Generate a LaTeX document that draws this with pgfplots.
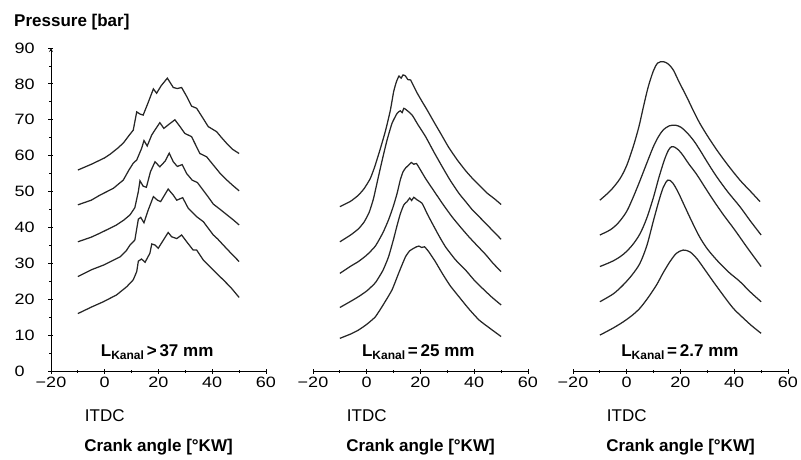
\documentclass[border=0pt]{standalone}
\usepackage{pgfplots}
\pgfplotsset{compat=1.18}
\usepackage{fontspec}
\setmainfont{Liberation Sans}
\newfontfamily\tickfont[FakeStretch=1.2]{Liberation Sans}

\pgfplotsset{
  curve/.style={black!85, line width=1.25pt, mark=none},
  panel/.style={
    scale only axis, width=215pt, height=323pt,
    xmin=-20, xmax=60, ymin=0, ymax=90,
    axis x line=bottom, axis line style={-, line width=0.8pt},
    xtick={-20,0,20,40,60}, xticklabels={−20,0,20,40,60},
    minor x tick num=1,
    tick align=center, major tick length=5pt, minor tick length=3pt,
    tick style={black, line width=0.8pt},
    ticklabel style={font=\tickfont\fontsize{15}{15}\selectfont},
    clip=false,
  },
}
\newcommand{\lab}[1]{\fontsize{17}{17}\selectfont\bfseries L\raisebox{-0.35ex}{\fontsize{12}{12}\selectfont Kanal}\,#1}

\begin{document}
\begin{tikzpicture}
\useasboundingbox (0,0) rectangle (801pt,459pt);
\node[font=\bfseries\fontsize{17}{17}\selectfont, anchor=base west, inner sep=0pt] at (14pt,432pt) {Pressure [bar]};

% Panel 1
\begin{axis}[panel, at={(51pt,88pt)}, anchor=south west,
  axis y line=left, ytick={0,10,...,90}, minor y tick num=1,
  yticklabels={0,10,20,30,40,50,60,70,80,90},
  yticklabel style={anchor=west, inner sep=0pt, xshift=-34pt}]
\addplot[curve] coordinates {(-10,56.0) (-5,57.6) (0,59.4) (2,60.4) (5,62.2) (7,63.6) (9,65.6) (10.6,67.1) (11.9,72.2) (13.1,71.6) (14.3,71.3) (16,74.5) (18.1,78.6) (19.3,77.4) (21,79.5) (23.3,81.6) (25.5,79.0) (27,78.7) (28.6,79.0) (30.5,76.5) (32.3,73.8) (34.2,73.2) (36.5,70.5) (38.5,68.1) (41.6,66.7) (43.5,65.0) (45.4,63.4) (47.5,61.8) (50,60.6)};
\addplot[curve] coordinates {(-10,46.3) (-5,47.6) (-1.8,49.0) (3.2,50.9) (6.9,53.2) (9,56) (10.6,57.9) (11.9,58.8) (13.7,62.0) (14.6,64.2) (15.8,62.7) (17.5,65.8) (20.5,69.2) (22,67.6) (24,68.8) (26.1,70.0) (28,68.1) (29.8,66.2) (32.3,65.3) (35.4,60.6) (37.9,59.7) (40.5,57.3) (42.9,55.1) (45,53.5) (47.5,51.8) (50,50.2)};
\addplot[curve] coordinates {(-10,36.0) (-5,37.3) (-1.8,38.4) (2,39.8) (4.4,40.7) (7,42) (9.4,43.5) (11.2,45.5) (12.5,50) (13.1,53.0) (14.3,51.5) (15.5,51.2) (17,55.5) (18.7,58.3) (20.5,56.9) (22.5,58.5) (24.0,60.7) (25.5,58.3) (27,57.0) (28.8,57.5) (30.5,55.0) (32.5,53.2) (34.5,52.5) (36.5,50.5) (38.5,48.5) (40.4,46.5) (43,45.0) (45.5,43.5) (48,42.0) (50,40.7)};
\addplot[curve] coordinates {(-10,26.3) (-5,28.2) (-0.5,29.5) (3,30.8) (5.7,31.8) (8,33.5) (9.4,35.1) (11.2,36.5) (12.5,42.3) (13.4,42.8) (14.6,41.3) (16.2,44.9) (18.1,48.6) (19.6,47.6) (20.8,47.2) (23.6,50.7) (25.5,49.0) (26.8,47.6) (29.0,48.3) (31.1,45.3) (34.2,43.0) (36.7,41.6) (40.4,37.9) (42,36.8) (44.1,35.1) (47,32.8) (50,30.5)};
\addplot[curve] coordinates {(-10,16.0) (-5,17.8) (-0.5,19.3) (4.4,21.2) (8.2,23.5) (10.6,25.4) (11.9,27.7) (12.5,30.6) (13.7,31.2) (15.0,30.3) (16.8,32.8) (17.5,35.4) (18.7,35.1) (19.9,34.2) (23.6,38.6) (24.9,37.4) (26.8,36.9) (28.6,37.9) (30.5,36.0) (32.9,33.7) (34.2,33.7) (36.7,30.9) (40.4,28.1) (44.1,25.4) (47,23.2) (50,20.5)};
\node at (axis cs:19.5,5.3) {\lab{>\,37 mm}};
\node[font=\fontsize{17}{17}\selectfont] at (axis cs:0,-12.5) {ITDC};
\node[font=\bfseries\fontsize{17}{17}\selectfont] at (axis cs:20,-21.2) {Crank angle [°KW]};
\end{axis}

% Panel 2
\begin{axis}[panel, at={(313pt,88pt)}, anchor=south west, axis y line=none]
\addplot[curve, smooth, tension=0.3] coordinates {(-10,45.8) (-6,47.3) (-3.1,49.0) (-1,50.8) (1.3,53.6) (3,57.0) (5.0,61.8) (7,67) (8.8,72.7) (10.0,77.8) (11,80.5) (12.0,82.2) (12.8,81.6) (13.5,82.5) (14.4,82.2) (15.3,81.2) (16.3,81.1) (17.5,79.3) (18.8,77.4) (20.5,75.2) (22.5,72.7) (25,69.4) (27.5,66.2) (30.5,62.3) (33.7,58.8) (36.8,55.8) (39.9,53.2) (42.5,51.3) (44.9,49.5) (47.5,48.0) (50,46.4)};
\addplot[curve, smooth, tension=0.3] coordinates {(-10,36.0) (-6,37.9) (-3.1,39.6) (-1,41.5) (0.9,44.2) (2.5,48.0) (4,53.0) (5.7,58.6) (7.5,64.2) (9.4,69.0) (11.3,71.8) (12.5,72.5) (13.2,72.0) (13.8,73.2) (15,72.6) (16.9,71.3) (19,68.7) (21.9,65.3) (25,61.0) (28.1,56.9) (31,53.2) (34.3,49.5) (36.8,47.2) (39.3,44.9) (41.8,43.0) (44.3,41.1) (47,39.0) (50,36.7)};
\addplot[curve, smooth, tension=0.3] coordinates {(-10,27.2) (-6,29.2) (-3.1,30.5) (0,32.3) (3.2,34.8) (6,38.5) (8.1,42.1) (9.8,45.7) (11.3,49.5) (12.5,53.3) (13.5,55.5) (14.5,56.6) (15.5,57.3) (16.6,58.1) (17.5,57.6) (18.5,57.8) (20,56.0) (22,53.5) (25.6,49.5) (28.5,46.3) (31.8,42.9) (35,40) (38,37.4) (41,35) (44.3,32.4) (47,30.0) (50,27.7)};
\addplot[curve, smooth, tension=0.3] coordinates {(-10,17.7) (-6,19.4) (-3.1,20.7) (0,22.3) (3.2,24.6) (6,28) (8.1,31.8) (10,36.8) (11.3,40.6) (12.5,43.8) (13.8,46.3) (15,47.2) (16,48.2) (16.7,47.5) (17.5,48.4) (18.5,47.8) (20.6,46.7) (22.5,43.8) (24.4,41.1) (27,37.5) (29.3,34.6) (33,31.0) (36.8,28.1) (40,25.3) (43.1,23.0) (46.5,20.6) (50,18.4)};
\addplot[curve, smooth, tension=0.3] coordinates {(-10,9.1) (-6,10.3) (-3.1,11.4) (0,13) (3.2,15.1) (6,18.3) (9.4,22.6) (12,27.5) (14.4,31.8) (16,33.5) (17.5,34.2) (18.5,34.6) (19.4,34.8) (20.5,34.4) (21.5,34.6) (23.1,33.2) (25.5,30.5) (28.1,27.2) (31,23.8) (34.3,20.7) (38,17.3) (41.8,14.2) (46,11.8) (50,9.6)};
\node at (axis cs:19.2,5.3) {\lab{=\,25 mm}};
\node[font=\fontsize{17}{17}\selectfont] at (axis cs:0,-12.5) {ITDC};
\node[font=\bfseries\fontsize{17}{17}\selectfont] at (axis cs:20,-21.2) {Crank angle [°KW]};
\end{axis}

% Panel 3
\begin{axis}[panel, at={(573pt,88pt)}, anchor=south west, axis y line=none]
\addplot[curve, smooth] coordinates {(-10,47.6) (-6,50.3) (-2.5,53.6) (0,57.3) (2.4,62.5) (4.5,68.0) (6.2,73.6) (8,79.2) (9.9,83.6) (11.5,85.8) (13.6,86.2) (15.5,85.5) (17.3,83.9) (19.5,80.5) (22.3,76.4) (24.8,72.5) (27.2,69.0) (30.3,65.2) (33.5,61.6) (37.5,57.5) (42.1,53.2) (46,50.1) (49.6,47.2)};
\addplot[curve, smooth] coordinates {(-10,37.9) (-6,39.4) (-3,41.4) (0,44.5) (2.5,48.6) (4.9,53.0) (7.5,58.0) (9.9,62.5) (11.8,65.3) (13.6,67.2) (15.8,68.3) (18.1,68.5) (20.2,67.9) (22.3,66.5) (24.8,64.3) (27.2,61.6) (30.3,57.8) (33.5,54.1) (37.5,50.0) (42.1,45.8) (46,41.8) (50,37.9)};
\addplot[curve, smooth] coordinates {(-10,29.1) (-5,30.7) (-1.3,32.5) (2,35) (4.9,38.2) (7.4,42.5) (9.9,48.3) (12,54) (14,58.8) (15.5,61.5) (16.7,62.5) (18,62.3) (19.5,61.4) (21,60.0) (23,57.8) (26,54.8) (29,51.3) (32.2,47.6) (36,43.5) (40,39.5) (45,34.2) (50,29.1)};
\addplot[curve, smooth] coordinates {(-10,19.3) (-5,21.5) (-1.3,24.0) (2,26.8) (4.9,30.0) (7.5,35) (9.9,41.8) (12,47.5) (13.6,51.2) (15.3,53.2) (17,52.5) (19,50.0) (21.5,46.0) (24,42.0) (27,37.5) (30,34.0) (34,30.5) (38,27.5) (42,25.0) (46,22.0) (50,19.3)};
\addplot[curve, smooth] coordinates {(-10,10.0) (-5,12.0) (-1.3,13.7) (2,15.5) (4.9,17.5) (8,20.5) (11.1,24.0) (13.5,27.3) (16.1,30.5) (18.5,32.8) (21,33.7) (23.5,33.2) (26,31.4) (29,28.3) (32.2,24.9) (36,21) (39.6,17.5) (43,15) (46.5,12.6) (50,10.5)};
\node at (axis cs:19.8,5.3) {\lab{=\,2.7 mm}};
\node[font=\fontsize{17}{17}\selectfont] at (axis cs:0,-12.5) {ITDC};
\node[font=\bfseries\fontsize{17}{17}\selectfont] at (axis cs:20,-21.2) {Crank angle [°KW]};
\end{axis}
\end{tikzpicture}
\end{document}
